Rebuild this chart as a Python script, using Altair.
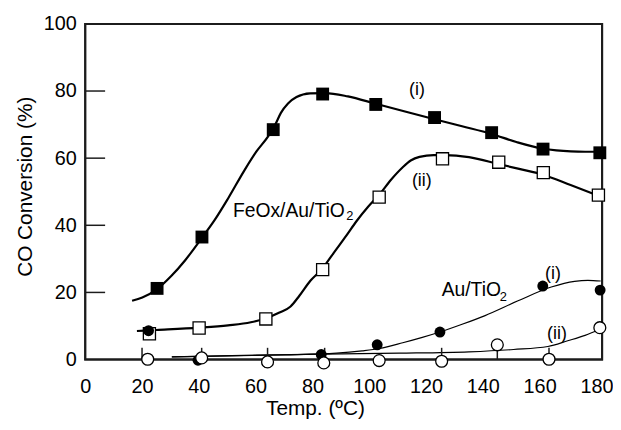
import altair as alt
import pandas as pd

# ---------------- data ----------------
# FeOx/Au/TiO2 (i)  - filled squares
fe1_x = [25.3, 41.1, 66.2, 83.6, 102.3, 123.0, 143.1, 161.2, 181.2]
fe1_y = [21.2, 36.5, 68.5, 79.1, 76.0, 72.1, 67.6, 62.7, 61.6]
# FeOx/Au/TiO2 (ii) - open squares
fe2_x = [22.6, 40.1, 63.6, 83.6, 103.5, 125.8, 145.6, 161.3, 180.7]
fe2_y = [7.7, 9.4, 12.1, 26.8, 48.4, 59.8, 58.8, 55.7, 49.0]
# Au/TiO2 (i) - filled circles
au1_x = [22.3, 39.7, 64.0, 83.1, 102.8, 124.9, 161.1, 181.3]
au1_y = [8.6, -0.2, -0.9, 1.5, 4.4, 8.2, 21.9, 20.7]
# Au/TiO2 (ii) - open circles
au2_x = [22.0, 41.0, 64.2, 84.0, 103.5, 125.5, 145.1, 163.3, 181.2]
au2_y = [0.1, 0.5, -0.7, -1.0, -0.3, -0.5, 4.4, 0.1, 9.5]

# hand-drawn fitted curves
fe1c_x = [16.5, 20.1, 25.3, 30.2, 35.2, 41.1, 45.6, 50.3, 56.0, 60.3, 64.4, 66.9, 68.9, 71.4, 74.4,
          79.2, 84.5, 92.5, 102.3, 112.6, 123.0, 132.7, 143.1, 151.8, 161.2, 165.9, 171.0, 176.0, 181.2]
fe1c_y = [17.5, 18.5, 21.0, 24.8, 29.6, 36.3, 41.6, 48.0, 56.3, 62.0, 66.5, 70.0, 73.5, 76.3, 78.2,
          79.3, 79.4, 78.4, 76.2, 73.9, 71.6, 69.5, 67.2, 64.8, 62.8, 62.3, 62.0, 61.9, 61.9]
fe2c_x = [18.2, 25.1, 40.1, 50.3, 58.3, 63.6, 68.4, 72.3, 75.4, 79.2, 83.6, 87.5, 92.0, 95.5, 99.6,
          103.6, 107.6, 111.8, 114.6, 117.7, 122.7, 126.7, 135.1, 145.8, 152.8, 161.5, 170.9, 180.7]
fe2c_y = [8.5, 8.8, 9.5, 10.2, 11.1, 12.3, 14.0, 15.8, 19.0, 23.4, 27.2, 31.8, 37.0, 41.2, 45.5,
          49.2, 53.5, 57.3, 59.3, 60.4, 60.9, 60.9, 60.3, 58.2, 56.8, 55.0, 52.0, 48.8]
au1c_x = [30.5, 50.3, 70.4, 88.5, 97.5, 103.6, 111.8, 118.7, 124.9, 132.7, 140.8, 152.4, 164.1, 172.3, 177.0, 181.5]
au1c_y = [0.8, 1.1, 1.4, 1.9, 2.6, 3.3, 5.0, 6.6, 8.2, 10.5, 13.1, 17.5, 21.6, 23.3, 23.6, 23.4]
au2c_x = [30.5, 60.3, 90.5, 110.6, 135.1, 150.8, 162.9, 169.9, 176.0, 181.5]
au2c_y = [0.8, 1.3, 1.7, 1.9, 2.3, 3.0, 3.9, 5.6, 7.2, 9.1]

# axis tick values / inward tick marks
x_ticks = [0, 20, 40, 60, 80, 100, 120, 140, 160, 180]
y_ticks = [0, 20, 40, 60, 80, 100]
y_inner_ticks = [20, 40, 60, 80]
x_stems = [20.0, 41.0, 64.2, 84.3, 125.5, 145.1, 163.3]

# annotations
main_lbl_x = [52.0, 125.5]
main_lbl_y = [42.6, 18.8]
main_lbl_t = ["FeOx/Au/TiO", "Au/TiO"]
sub_lbl_x = [91.9, 146.0]
sub_lbl_y = [41.6, 17.3]
sub_lbl_t = ["2", "2"]
rn_x = [116.8, 118.5, 164.7, 166.1]
rn_y = [80.4, 53.1, 25.4, 7.7]
rn_t = ["(i)", "(ii)", "(i)", "(ii)"]

# ---------------- chart ----------------
W, H = 522, 339
FONT = "Liberation Sans"
FRAME = "#1c1c1c"
X_MAX, Y_MAX = 182, 100
YTICK_LEN = 7.0    # inward y tick length in x units (~20 px)
XTICK_LEN = 3.5    # inward x tick length in y units (~12 px)

xscale = alt.Scale(domain=[0, X_MAX], nice=False, zero=False)
yscale = alt.Scale(domain=[0, Y_MAX], nice=False, zero=False)

x_axis = alt.Axis(values=x_ticks, title="Temp. (ºC)", ticks=False, tickSize=0, domain=False, grid=False,
                  labelPadding=17, labelFontSize=20, labelFont=FONT, labelColor="black",
                  titleFontSize=21, titleFont=FONT, titleFontWeight="normal", titleColor="black",
                  titleX=232, titleY=38, titleBaseline="top", titleAlign="center", labelFlush=False)
y_axis = alt.Axis(values=y_ticks, title="CO Conversion (%)", ticks=False, tickSize=0, domain=False, grid=False,
                  labelPadding=9, labelFontSize=20, labelFont=FONT, labelColor="black",
                  titleFontSize=21, titleFont=FONT, titleFontWeight="normal", titleColor="black",
                  titleAngle=270, titleX=-60, titleY=164, titleBaseline="middle", titleAlign="center",
                  labelFlush=False)


def X():
    return alt.X("x:Q", scale=xscale, axis=x_axis)


def Y():
    return alt.Y("y:Q", scale=yscale, axis=y_axis)


def df(xs, ys):
    return pd.DataFrame({"x": xs, "y": ys})


# frame drawn as a closed polyline
frame_df = pd.DataFrame({"x": [0, 0, X_MAX, X_MAX, 0], "y": [0, Y_MAX, Y_MAX, 0, 0], "o": [0, 1, 2, 3, 4]})
frame = alt.Chart(frame_df).mark_line(color=FRAME, strokeWidth=2, strokeCap="square").encode(
    x=X(), y=Y(), order="o:Q")

# inward ticks drawn as short segments
tick_rows = []
for v in y_inner_ticks:
    tick_rows += [{"x": 0, "y": v, "k": f"y{v}"}, {"x": YTICK_LEN, "y": v, "k": f"y{v}"}]
for v in x_stems:
    tick_rows += [{"x": v, "y": 0, "k": f"x{v}"}, {"x": v, "y": XTICK_LEN, "k": f"x{v}"}]
ticks = alt.Chart(pd.DataFrame(tick_rows)).mark_line(color=FRAME, strokeWidth=1.5).encode(
    x=X(), y=Y(), detail="k:N")

fe1_line = alt.Chart(df(fe1c_x, fe1c_y)).mark_line(interpolate="monotone", color="black", strokeWidth=2.2).encode(x=X(), y=Y())
fe2_line = alt.Chart(df(fe2c_x, fe2c_y)).mark_line(interpolate="monotone", color="black", strokeWidth=2.2).encode(x=X(), y=Y())
au1_line = alt.Chart(df(au1c_x, au1c_y)).mark_line(interpolate="monotone", color="black", strokeWidth=1.2).encode(x=X(), y=Y())
au2_line = alt.Chart(df(au2c_x, au2c_y)).mark_line(interpolate="monotone", color="black", strokeWidth=1.2).encode(x=X(), y=Y())

fe2_pts = alt.Chart(df(fe2_x, fe2_y)).mark_square(size=150, fill="white", stroke="black", strokeWidth=1.3, opacity=1).encode(x=X(), y=Y())
fe1_pts = alt.Chart(df(fe1_x, fe1_y)).mark_square(size=169, color="black", opacity=1).encode(x=X(), y=Y())
au1_pts = alt.Chart(df(au1_x, au1_y)).mark_circle(size=121, color="black", opacity=1).encode(x=X(), y=Y())
au2_pts = alt.Chart(df(au2_x, au2_y)).mark_circle(size=144, fill="white", stroke="black", strokeWidth=1.3, opacity=1).encode(x=X(), y=Y())

main_txt = alt.Chart(pd.DataFrame({"x": main_lbl_x, "y": main_lbl_y, "t": main_lbl_t})).mark_text(
    align="left", baseline="alphabetic", fontSize=19.5, font=FONT, color="black").encode(x=X(), y=Y(), text="t:N")
sub_txt = alt.Chart(pd.DataFrame({"x": sub_lbl_x, "y": sub_lbl_y, "t": sub_lbl_t})).mark_text(
    align="left", baseline="alphabetic", fontSize=13, font=FONT, color="black").encode(x=X(), y=Y(), text="t:N")
rn_txt = alt.Chart(pd.DataFrame({"x": rn_x, "y": rn_y, "t": rn_t})).mark_text(
    align="center", baseline="middle", fontSize=18, font=FONT, color="black").encode(x=X(), y=Y(), text="t:N")

chart = alt.layer(
    fe1_line, fe2_line, au1_line, au2_line, ticks, frame,
    fe2_pts, fe1_pts, au1_pts, au2_pts,
    main_txt, sub_txt, rn_txt,
).properties(
    width=W, height=H,
    autosize=alt.AutoSizeParams(type="none"),
    padding={"left": 78, "top": 14, "right": 11, "bottom": 60},
).configure_view(
    stroke=FRAME, strokeWidth=2
)

chart.save("out.html", embed_options={"renderer": "svg", "actions": False})
